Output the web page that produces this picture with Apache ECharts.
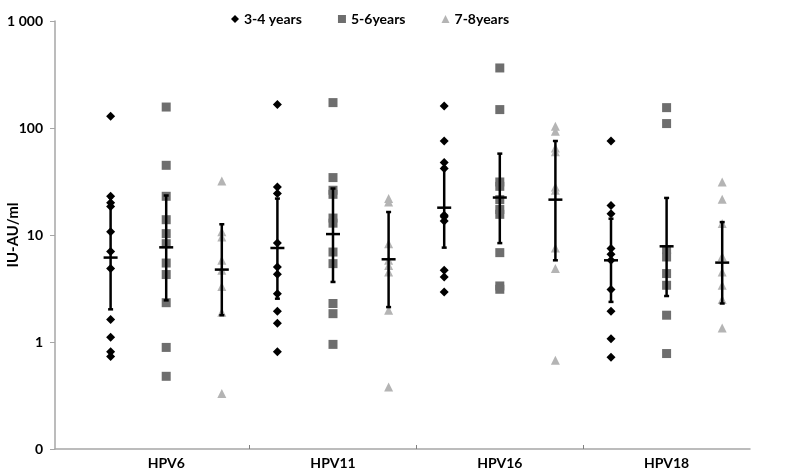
<!DOCTYPE html>
<html><head><meta charset="utf-8">
<script src="https://cdn.jsdelivr.net/npm/echarts@6/dist/echarts.min.js"></script>
<style>html,body{margin:0;padding:0;background:#fff}#c{width:800px;height:471px}</style>
</head><body><div id="c"></div>
<script>
var categories = ['HPV6', 'HPV11', 'HPV16', 'HPV18'];
var seriesNames = ['3-4 years', '5-6years', '7-8years'];
var yTickLabels = {'0.1': '0', '1': '1', '10': '10', '100': '100', '1000': '1 000'};

// individual values per category (IU-AU/ml)
var age34 = [
  [128.6, 23, 20, 18.5, 10.7, 7.0, 4.86, 1.62, 1.11, 0.81, 0.73],
  [165.5, 28.1, 24.4, 8.4, 5.02, 4.3, 2.83, 1.94, 1.5, 0.81],
  [160.6, 75.6, 47.5, 41.8, 15.3, 14.8, 13.5, 4.68, 4.05, 2.93],
  [75.6, 18.9, 15.8, 7.46, 6.6, 5.8, 3.09, 1.94, 1.07, 0.72]
];
var age56 = [
  [157, 44.8, 23, 13.9, 10.3, 8.3, 5.47, 4.27, 2.33, 0.89, 0.478],
  [172.7, 34.4, 26.2, 24, 14.4, 12.9, 6.93, 5.4, 2.29, 1.84, 0.95],
  [364, 148.6, 31.3, 28.5, 21.4, 17.3, 15.6, 6.84, 3.34, 3.11],
  [155, 110, 7.3, 6.23, 4.36, 3.39, 1.78, 0.78]
];
var age78 = [
  [32, 10.7, 9.6, 5.8, 4.68, 3.3, 1.9, 0.33],
  [21.9, 20.3, 8.3, 5.8, 5.2, 4.5, 1.98, 0.38],
  [103.8, 93, 65, 60, 28.1, 26.2, 7.56, 4.86, 0.675],
  [31.3, 21.6, 12.8, 6.3, 4.5, 3.39, 2.49, 1.35]
];
// means and error bar limits
var mean34 = [6.15, 7.56, 18.0, 5.8];
var low34  = [2.02, 2.54, 7.62, 2.37];
var high34 = [22.5, 21.9, 42.6, 14.2];
var mean56 = [7.67, 10.2, 22.4, 7.84];
var low56  = [2.45, 3.64, 8.4, 2.69];
var high56 = [23.4, 27.2, 57.6, 22.2];
var mean78 = [4.75, 5.93, 21.4, 5.52];
var low78  = [1.78, 2.12, 5.8, 2.29];
var high78 = [12.6, 16.4, 75.6, 13.2];

var groups = [
  {vals: age34, mean: mean34, low: low34, high: high34, symbol: 'diamond', size: 9, color: '#000000'},
  {vals: age56, mean: mean56, low: low56, high: high56, symbol: 'rect', size: 9, color: '#6e6e6e'},
  {vals: age78, mean: mean78, low: low78, high: high78, symbol: 'triangle', size: 9, color: '#b4b4b4'}
];

function xPos(ci, si) { return ci * 3 + si + 1; }

var FONT = 'Lato';
var series = [];
groups.forEach(function (g, si) {
  var data = [];
  g.vals.forEach(function (arr, ci) {
    arr.forEach(function (v) { data.push([xPos(ci, si), v]); });
  });
  series.push({
    name: seriesNames[si], type: 'scatter', data: data,
    symbol: g.symbol, symbolSize: g.size,
    itemStyle: {color: g.color, opacity: 1}, z: 2
  });
});
var errData = [];
groups.forEach(function (g, si) {
  categories.forEach(function (c, ci) {
    errData.push([xPos(ci, si), g.mean[ci], g.low[ci], g.high[ci]]);
  });
});
series.push({
  type: 'custom', z: 5, silent: true,
  data: errData,
  encode: {x: 0, y: [1, 2, 3]},
  renderItem: function (params, api) {
    var x = api.value(0);
    var pm = api.coord([x, api.value(1)]);
    var pl = api.coord([x, api.value(2)]);
    var ph = api.coord([x, api.value(3)]);
    var st = {stroke: '#000', lineWidth: 2.5};
    return {type: 'group', children: [
      {type: 'line', shape: {x1: pm[0], y1: pl[1], x2: pm[0], y2: ph[1]}, style: st},
      {type: 'line', shape: {x1: pm[0] - 2.5, y1: pl[1], x2: pm[0] + 2.5, y2: pl[1]}, style: st},
      {type: 'line', shape: {x1: pm[0] - 2.5, y1: ph[1], x2: pm[0] + 2.5, y2: ph[1]}, style: st},
      {type: 'line', shape: {x1: pm[0] - 7, y1: pm[1], x2: pm[0] + 7, y2: pm[1]}, style: st}
    ]};
  }
});

var chart = echarts.init(document.getElementById('c'), null, {renderer: 'canvas'});
chart.setOption({
  animation: false,
  backgroundColor: '#ffffff',
  textStyle: {fontFamily: FONT},
  legend: {
    data: seriesNames.map(function (n, i) { return {name: n, icon: ['diamond', 'rect', 'triangle'][i]}; }),
    top: 7, left: 226, itemWidth: 8, itemHeight: 8, itemGap: 36,
    textStyle: {fontFamily: FONT, fontWeight: 'bold', fontSize: 14, color: '#000'}
  },
  grid: {left: 55, right: 50, top: 21, bottom: 22, containLabel: false, outerBoundsMode: 'none'},
  xAxis: {
    type: 'value', min: 0, max: 12.5,
    axisLine: {show: true, lineStyle: {color: '#a6a6a6', width: 1.5}},
    splitLine: {show: false},
    axisTick: {show: true, inside: true, length: 4, customValues: [3.5, 6.5, 9.5], lineStyle: {color: '#808080'}},
    axisLabel: {
      customValues: [2, 5, 8, 11], margin: 7,
      formatter: function (v) { return categories[Math.round((v - 2) / 3)]; },
      fontFamily: FONT, fontWeight: 'bold', fontSize: 14, color: '#000'
    }
  },
  yAxis: {
    type: 'log', logBase: 10, min: 0.1, max: 1000,
    name: 'IU-AU/ml', nameLocation: 'middle', nameGap: 34, nameRotate: 90, nameMoveOverlap: false,
    nameTextStyle: {fontFamily: FONT, fontWeight: 'bold', fontSize: 15, color: '#000'},
    axisLine: {show: true, lineStyle: {color: '#a6a6a6', width: 1.5}},
    splitLine: {show: false},
    axisTick: {show: true, length: 5, lineStyle: {color: '#a6a6a6'}},
    axisLabel: {
      margin: 12,
      formatter: function (v) {
        var k = String(Math.round(Math.log10(v)) >= 0 ? Math.round(v) : 0.1);
        return yTickLabels[k] !== undefined ? yTickLabels[k] : v;
      },
      fontFamily: FONT, fontWeight: 'bold', fontSize: 14, color: '#000'
    }
  },
  series: series
});
</script></body></html>
